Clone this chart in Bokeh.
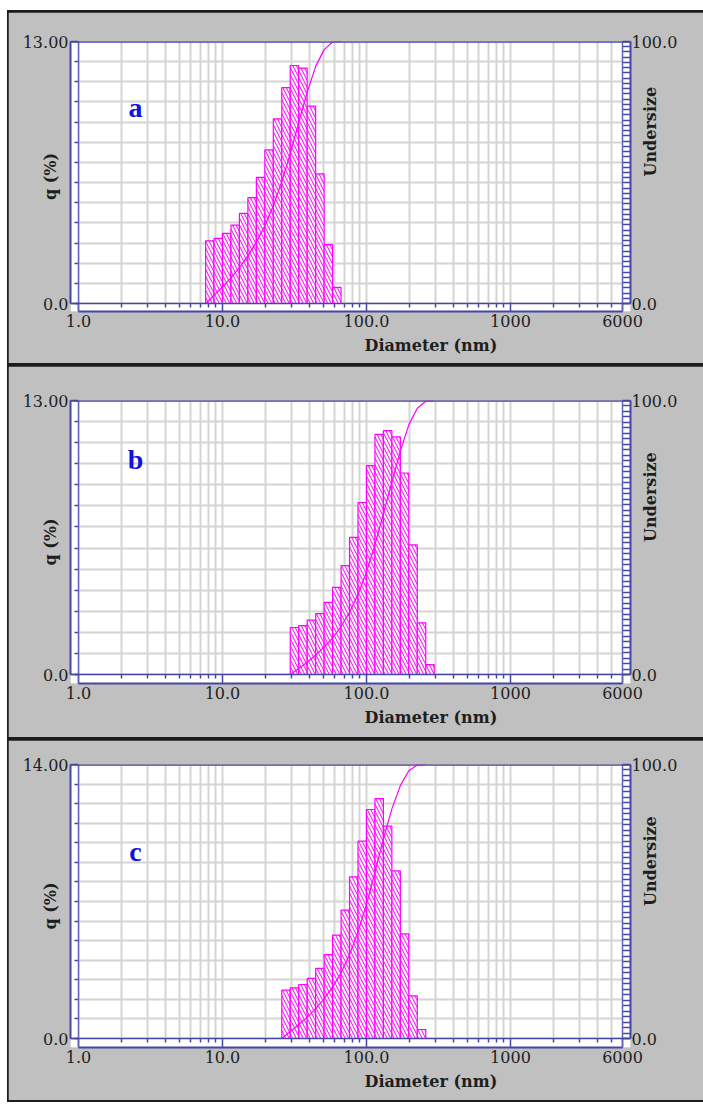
import math
from bokeh.plotting import figure
from bokeh.models import (Range1d, LinearAxis, LogAxis, FixedTicker, Span,
                          BoxAnnotation, Label, Spacer, Title)
from bokeh.layouts import column, row
from bokeh.embed import file_html
from bokeh.resources import INLINE

# ---------------- data ----------------
# bin edges (nm), frequency q (%) per bin, cumulative undersize (%) at the edges
edges_a = [7.63, 8.73, 10.0, 11.45, 13.11, 15.01, 17.19, 19.69, 22.54, 25.81,
           29.55, 33.84, 38.75, 44.37, 50.81, 58.18, 66.62]
q_a = [3.11, 3.23, 3.48, 3.89, 4.47, 5.25, 6.26, 7.62, 9.16, 10.71, 11.81,
       11.68, 9.79, 6.43, 2.92, 0.80]
u_a = [0, 3.1, 6.3, 9.8, 13.7, 18.2, 23.4, 29.7, 37.3, 46.5, 57.2, 69.0,
       80.7, 90.5, 96.9, 99.8, 100.0]

edges_b = [29.55, 33.84, 38.75, 44.37, 50.81, 58.18, 66.62, 76.28, 87.34,
           100.0, 114.5, 131.1, 150.1, 171.9, 196.8, 225.4, 258.1, 295.5]
q_b = [2.23, 2.32, 2.58, 2.89, 3.42, 4.13, 5.17, 6.51, 8.16, 9.91, 11.39,
       11.57, 11.27, 9.56, 6.15, 2.45, 0.47]
u_b = [0, 2.2, 4.5, 7.1, 10.0, 13.4, 17.5, 22.7, 29.2, 37.4, 47.3, 58.7,
       70.2, 81.5, 91.1, 97.2, 99.7, 100.0]

edges_c = [25.81, 29.55, 33.84, 38.75, 44.37, 50.81, 58.18, 66.62, 76.28,
           87.34, 100.0, 114.5, 131.1, 150.1, 171.9, 196.8, 225.4, 258.1]
q_c = [2.47, 2.59, 2.76, 3.07, 3.58, 4.29, 5.28, 6.56, 8.26, 10.08, 11.70,
       12.26, 10.85, 8.56, 5.35, 2.18, 0.46]
u_c = [0, 2.5, 5.1, 7.8, 10.9, 14.5, 18.8, 24.0, 30.6, 38.9, 48.9, 60.6,
       72.9, 83.8, 92.3, 97.7, 99.8, 100.0]

x_major = [1, 10, 100, 1000, 6000]
x_major_labels = ["1.0", "10.0", "100.0", "1000", "6000"]
x_minor = [m * d for d in (1, 10, 100, 1000) for m in range(2, 10) if m * d < 6000]
x_grid = [1] + x_minor + [10, 100, 1000]
ymax_list = {"a": 13, "b": 13, "c": 14}
x_title = "Diameter (nm)"
y_title = "q (%)"
y2_title = "Undersize"

# ---------------- style ----------------
GRAY = "#c0c0c0"
BLUE = "#4646a6"
BLUE2 = "#6262bc"
MAG = "#ff00ff"
GRIDC = "#d4d4d4"
TXT = "#1e1e1e"
SERIF = "DejaVu Serif"

FIG_W = 695
BORDER_L = 62
BORDER_R = 73
DATA_X0 = 78       # absolute px of x = 1
DATA_X1 = 622      # absolute px of x = 6000
FRAME_L = 70
FRAME_R = 630
DEC = (DATA_X1 - DATA_X0) / math.log10(6000)
XR0 = 10 ** (-(DATA_X0 - FRAME_L) / DEC)
XR1 = 6000 * 10 ** ((FRAME_R - DATA_X1) / DEC)


def xd(px):
    return 10 ** ((px - DATA_X0) / DEC)


def panel(letter, edges, q, u, ymax, H, top_b, bot_b, data_h, letter_base):
    frame_h = H - top_b - bot_b
    off = frame_h - data_h
    k = ymax / data_h
    y0 = -off * k
    p = figure(width=FIG_W, height=H, x_axis_type="log",
               x_range=Range1d(XR0, XR1), y_range=Range1d(y0, ymax),
               output_backend="svg", toolbar_location=None,
               min_border_left=BORDER_L, min_border_right=BORDER_R,
               min_border_top=top_b, min_border_bottom=bot_b,
               background_fill_color="white", border_fill_color=GRAY,
               outline_line_color=None)
    p.extra_y_ranges = {"u": Range1d(y0 / ymax * 100, 100)}

    # grid
    p.xgrid.ticker = FixedTicker(ticks=x_grid)
    p.ygrid.ticker = FixedTicker(ticks=list(range(0, ymax + 1)))
    p.xgrid.grid_line_color = GRIDC
    p.ygrid.grid_line_color = GRIDC
    p.xgrid.grid_line_width = 2
    p.ygrid.grid_line_width = 2
    for kw in (dict(top=0), dict(right=1), dict(left=6000)):
        p.add_layout(BoxAnnotation(fill_color="white", fill_alpha=1.0,
                                   line_alpha=0, level="underlay", **kw))

    def style_labels(ax):
        ax.major_label_text_font = SERIF
        ax.major_label_text_font_size = "16px"
        ax.major_label_text_color = TXT

    def style_title(ax):
        ax.axis_label_text_font = SERIF
        ax.axis_label_text_font_size = "16px"
        ax.axis_label_text_font_style = "bold"
        ax.axis_label_text_color = TXT

    # bottom (outer) axis
    bx = p.below[0]
    bx.ticker = FixedTicker(ticks=x_major, minor_ticks=[])
    bx.bounds = (1, 6000)
    bx.major_tick_in = 9
    bx.major_tick_out = 0
    bx.minor_tick_in = 0
    bx.minor_tick_out = 0
    bx.axis_line_color = BLUE
    bx.axis_line_width = 2
    bx.major_tick_line_color = BLUE
    bx.major_tick_line_width = 1.5
    bx.major_label_overrides = dict(zip(x_major, x_major_labels))
    bx.major_label_standoff = 3
    style_labels(bx)

    # left (outer) axis, with the y title pulled in between labels and frame
    ly = p.left[0]
    ly.ticker = FixedTicker(ticks=[0, ymax], minor_ticks=[])
    ly.bounds = (0, ymax)
    ly.major_tick_in = 8
    ly.major_tick_out = 0
    ly.minor_tick_in = 0
    ly.minor_tick_out = 0
    ly.axis_line_color = BLUE
    ly.axis_line_width = 2
    ly.major_tick_line_color = BLUE
    ly.major_tick_line_width = 1.5
    ly.major_label_overrides = {0: "0.0", ymax: f"{ymax}.00"}
    ly.major_label_standoff = 2
    ly.axis_label = y_title
    ly.axis_label_standoff = -40
    style_labels(ly)
    style_title(ly)

    # right (outer) axis
    ry = LinearAxis(y_range_name="u",
                    ticker=FixedTicker(ticks=[0, 100], minor_ticks=[]),
                    bounds=(0, 100), major_tick_in=8, major_tick_out=0,
                    minor_tick_in=0, minor_tick_out=0,
                    axis_line_color=BLUE, axis_line_width=2,
                    major_tick_line_color=BLUE, major_tick_line_width=1.5,
                    major_label_overrides={0: "0.0", 100: "100.0"},
                    major_label_standoff=1,
                    axis_label=y2_title, axis_label_standoff=-30)
    style_labels(ry)
    style_title(ry)
    try:
        ry.axis_label_orientation = math.pi / 2
    except Exception:
        pass
    p.add_layout(ry, "right")

    # inner tick rows (fixed location, minor ticks only)
    il = LinearAxis(fixed_location=1,
                    ticker=FixedTicker(ticks=[], minor_ticks=list(range(0, ymax + 1))),
                    major_tick_out=0, major_tick_in=0, minor_tick_in=0,
                    minor_tick_out=4, axis_line_color=None,
                    minor_tick_line_color=BLUE, minor_tick_line_width=1.5)
    p.add_layout(il, "left")

    ir = LinearAxis(y_range_name="u", fixed_location=6000,
                    ticker=FixedTicker(ticks=[], minor_ticks=list(range(0, 101, 2))),
                    major_tick_out=0, major_tick_in=0, minor_tick_out=8,
                    minor_tick_in=0, axis_line_color=None,
                    minor_tick_line_color=BLUE, minor_tick_line_width=1.3)
    p.add_layout(ir, "right")

    ib = LogAxis(fixed_location=0,
                 ticker=FixedTicker(ticks=[], minor_ticks=x_minor),
                 major_tick_out=0, major_tick_in=0, minor_tick_out=4,
                 minor_tick_in=0, axis_line_color=None,
                 minor_tick_line_color=BLUE, minor_tick_line_width=1.5)
    p.add_layout(ib, "below")

    # x title, left-aligned so that it is centred near x px 429
    p.add_layout(Title(text=x_title, align="left", offset=294, standoff=10,
                       vertical_align="middle", text_font=SERIF,
                       text_font_size="16px", text_font_style="bold",
                       text_color=TXT), "below")

    # frame lines
    p.add_layout(Span(location=1, dimension="height", line_color=BLUE2, line_width=1.5))
    p.add_layout(Span(location=6000, dimension="height", line_color=BLUE2, line_width=1.5))
    p.add_layout(Span(location=0, dimension="width", line_color=BLUE, line_width=1.5))
    p.add_layout(Span(location=ymax, dimension="width", line_color=BLUE, line_width=2.5))

    # bars and cumulative curve
    p.quad(left=edges[:-1], right=edges[1:], bottom=0, top=q,
           fill_color="#f6f6f6", line_color=MAG, line_width=1.2,
           hatch_pattern="left_diagonal_line", hatch_color=MAG,
           hatch_scale=7, hatch_weight=1)
    p.line(edges, u, y_range_name="u", line_color=MAG, line_width=1.2)

    # panel letter
    p.add_layout(Label(x=xd(135), y=ymax * (1 - letter_base / data_h), text=letter,
                       text_font="Liberation Serif", text_font_style="bold",
                       text_font_size="28px", text_color="#1212e0",
                       text_align="center", text_baseline="alphabetic"))
    return p


fa = panel("a", edges_a, q_a, u_a, ymax_list["a"], 351, 29, 52, 262, 66)
fb = panel("b", edges_b, q_b, u_b, ymax_list["b"], 371, 34, 54, 274, 59)
fc = panel("c", edges_c, q_c, u_c, ymax_list["c"], 360, 24, 53, 274, 87)

inner = column(fa, fb, fc, spacing=3,
               styles={"background-color": "#1c1c1c", "padding": "2px 0px 2px 1px"})
layout = column(Spacer(height=10, width=10), row(Spacer(width=7, height=10), inner))

open("out.html", "w").write(file_html(layout, INLINE))
